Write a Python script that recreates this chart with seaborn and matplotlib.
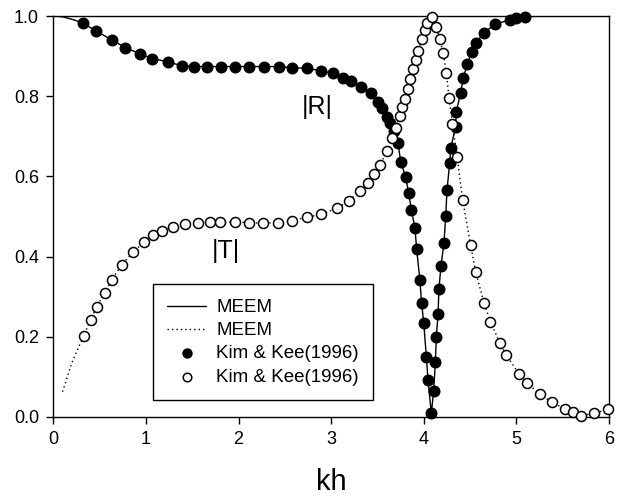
import matplotlib
matplotlib.use("Agg")
import matplotlib.pyplot as plt
import seaborn as sns
import numpy as np

# ---------------- data ----------------
kim_R_kh = [0.324, 0.457, 0.637, 0.777, 0.935, 1.068, 1.234, 1.385, 1.514, 1.665,
            1.806, 1.960, 2.115, 2.273, 2.435, 2.578, 2.737, 2.888, 3.025, 3.133,
            3.212, 3.327, 3.427, 3.507, 3.553, 3.607, 3.640, 3.680, 3.722, 3.751,
            3.805, 3.837, 3.866, 3.905, 3.923, 3.958, 3.976, 4.000, 4.028, 4.046,
            4.082, 4.107, 4.125, 4.136, 4.154, 4.164, 4.186, 4.218, 4.237, 4.251,
            4.280, 4.291, 4.344, 4.350, 4.398, 4.427, 4.470, 4.517, 4.560, 4.650,
            4.772, 4.930, 5.000, 5.096]
kim_R = [0.982, 0.963, 0.940, 0.921, 0.906, 0.894, 0.886, 0.876, 0.874, 0.874,
         0.874, 0.874, 0.874, 0.874, 0.874, 0.871, 0.870, 0.863, 0.857, 0.845,
         0.839, 0.824, 0.807, 0.786, 0.770, 0.749, 0.732, 0.712, 0.683, 0.637,
         0.598, 0.558, 0.517, 0.471, 0.419, 0.342, 0.285, 0.234, 0.150, 0.092,
         0.009, 0.066, 0.136, 0.200, 0.256, 0.320, 0.377, 0.433, 0.501, 0.566,
         0.633, 0.670, 0.724, 0.761, 0.807, 0.846, 0.880, 0.909, 0.932, 0.958,
         0.980, 0.990, 0.994, 0.998]

kim_T_kh = [0.327, 0.403, 0.468, 0.558, 0.630, 0.738, 0.863, 0.982, 1.072, 1.176,
            1.295, 1.421, 1.558, 1.690, 1.798, 1.960, 2.115, 2.266, 2.421, 2.578,
            2.734, 2.888, 3.068, 3.193, 3.307, 3.397, 3.462, 3.523, 3.607, 3.660,
            3.697, 3.743, 3.762, 3.797, 3.830, 3.855, 3.884, 3.913, 3.935, 3.978,
            4.010, 4.040, 4.090, 4.137, 4.173, 4.210, 4.245, 4.273, 4.310, 4.360,
            4.420, 4.506, 4.560, 4.650, 4.720, 4.820, 4.890, 5.030, 5.120, 5.250,
            5.385, 5.530, 5.610, 5.700, 5.837, 5.988]
kim_T = [0.202, 0.242, 0.275, 0.310, 0.342, 0.379, 0.412, 0.436, 0.453, 0.465,
         0.475, 0.481, 0.485, 0.487, 0.486, 0.486, 0.485, 0.483, 0.485, 0.490,
         0.498, 0.505, 0.521, 0.539, 0.564, 0.584, 0.606, 0.628, 0.663, 0.695,
         0.720, 0.751, 0.772, 0.792, 0.817, 0.843, 0.867, 0.890, 0.912, 0.942,
         0.965, 0.982, 0.998, 0.972, 0.942, 0.907, 0.857, 0.795, 0.731, 0.649,
         0.541, 0.429, 0.362, 0.285, 0.238, 0.185, 0.155, 0.107, 0.084, 0.057,
         0.037, 0.019, 0.013, 0.003, 0.009, 0.019]

# MEEM curves: extra end segments beyond the comparison points
meem_R_kh = [0.0, 0.1, 0.2] + kim_R_kh + [5.3, 5.6, 6.0]
meem_R = [1.0, 0.998, 0.992] + kim_R + [1.0, 1.0, 1.0]
meem_T_kh = [0.1, 0.2] + kim_T_kh + [6.0]
meem_T = [0.063, 0.135] + kim_T + [0.02]

x_ticks = [0, 1, 2, 3, 4, 5, 6]
y_ticks = [0.0, 0.2, 0.4, 0.6, 0.8, 1.0]

# ---------------- style ----------------
sns.set_theme(style="ticks")
plt.rcParams["font.family"] = ["Liberation Sans", "DejaVu Sans"]
plt.rcParams["axes.edgecolor"] = "black"
plt.rcParams["axes.linewidth"] = 1.0
plt.rcParams["text.color"] = "black"
plt.rcParams["axes.labelcolor"] = "black"
plt.rcParams["xtick.color"] = "black"
plt.rcParams["ytick.color"] = "black"

fig = plt.figure(figsize=(6.29, 4.97), dpi=100)
ax = fig.add_axes([0.0847, 0.161, 0.8835, 0.8068])

sns.lineplot(x=meem_R_kh, y=meem_R, ax=ax, color="black", linewidth=1.0,
             linestyle="-", sort=False, estimator=None)
sns.lineplot(x=meem_T_kh, y=meem_T, ax=ax, color="black", linewidth=1.0,
             linestyle=(0, (1, 2.2)), sort=False, estimator=None)
sns.scatterplot(x=kim_R_kh, y=kim_R, ax=ax, color="black", edgecolor="black",
                s=58, linewidth=1.0, zorder=3, clip_on=False)
sns.scatterplot(x=kim_T_kh, y=kim_T, ax=ax, color="white", edgecolor="black",
                s=52, linewidth=1.1, zorder=3, clip_on=False)

lines = ax.get_lines()
colls = ax.collections
handles = [lines[0], lines[1], colls[0], colls[1]]
labels = ["MEEM", "MEEM", "Kim & Kee(1996)", "Kim & Kee(1996)"]
leg = ax.legend(handles, labels, loc="lower left", bbox_to_anchor=(0.179, 0.042),
                borderaxespad=0, fontsize=13.5, frameon=True, fancybox=False,
                edgecolor="black", framealpha=1, handlelength=2.05,
                handletextpad=0.55, labelspacing=0.32, borderpad=0.78,
                markerscale=0.85)
leg.get_frame().set_linewidth(1.0)

ax.text(2.845, 0.773, "|R|", fontsize=18, ha="center", va="center")
ax.text(1.863, 0.413, "|T|", fontsize=18, ha="center", va="center")

ax.set_xlim(0, 6)
ax.set_ylim(0, 1)
ax.set_xticks(x_ticks)
ax.set_xticklabels([str(v) for v in x_ticks])
ax.set_yticks(y_ticks)
ax.set_yticklabels([f"{v:.1f}" for v in y_ticks])
ax.tick_params(axis="both", direction="out", length=4.7, width=1.0,
               labelsize=13, pad=5.5, color="black")
ax.set_xlabel("kh", fontsize=21, labelpad=14)
ax.set_ylabel("")
for sp in ax.spines.values():
    sp.set_visible(True)
    sp.set_color("black")

fig.savefig("out.png", dpi=100)
